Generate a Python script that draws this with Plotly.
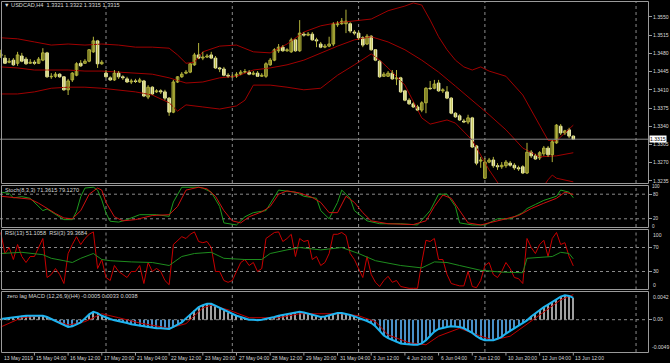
import plotly.graph_objects as go

# ---------------- DATA ----------------
bars = list(range(137))
open_ = [1.3475,1.3471,1.3463,1.3467,1.3461,1.3475,1.3469,1.3461,1.3463,1.3461,
1.3467,1.3481,1.3435,1.3436,1.3440,1.3435,1.3410,1.3429,1.3438,1.3461,
1.3461,1.3465,1.3483,1.3504,1.3460,1.3442,1.3433,1.3429,1.3442,1.3435,
1.3431,1.3425,1.3427,1.3425,1.3427,1.3396,1.3415,1.3406,1.3408,1.3406,
1.3394,1.3367,1.3425,1.3435,1.3442,1.3444,1.3458,1.3477,1.3471,1.3473,
1.3477,1.3471,1.3452,1.3450,1.3438,1.3436,1.3436,1.3440,1.3444,1.3444,
1.3440,1.3442,1.3436,1.3436,1.3458,1.3467,1.3485,1.3492,1.3485,1.3483,
1.3506,1.3485,1.3517,1.3515,1.3517,1.3506,1.3498,1.3492,1.3494,1.3498,
1.3535,1.3537,1.3537,1.3537,1.3521,1.3519,1.3510,1.3498,1.3513,1.3487,
1.3465,1.3436,1.3436,1.3442,1.3431,1.3433,1.3408,1.3390,1.3383,1.3377,
1.3371,1.3385,1.3413,1.3413,1.3423,1.3408,1.3406,1.3394,1.3365,1.3360,
1.3350,1.3348,1.3356,1.3302,1.3273,1.3240,1.3271,1.3275,1.3264,1.3262,
1.3264,1.3269,1.3265,1.3260,1.3262,1.3250,1.3290,1.3283,1.3279,1.3287,
1.3298,1.3285,1.3308,1.3340,1.3327,1.3333,1.3321]
close = [1.3479,1.3461,1.3465,1.3458,1.3477,1.3465,1.3460,1.3463,1.3461,1.3469,
1.3481,1.3435,1.3436,1.3440,1.3435,1.3410,1.3427,1.3442,1.3460,1.3456,
1.3465,1.3487,1.3504,1.3460,1.3463,1.3435,1.3429,1.3442,1.3435,1.3433,
1.3425,1.3427,1.3426,1.3429,1.3398,1.3415,1.3402,1.3408,1.3406,1.3394,
1.3367,1.3425,1.3435,1.3440,1.3444,1.3460,1.3477,1.3471,1.3473,1.3475,
1.3471,1.3452,1.3450,1.3438,1.3436,1.3435,1.3440,1.3444,1.3445,1.3440,
1.3442,1.3436,1.3438,1.3460,1.3467,1.3487,1.3492,1.3485,1.3487,1.3506,
1.3485,1.3519,1.3515,1.3517,1.3506,1.3504,1.3492,1.3494,1.3498,1.3537,
1.3537,1.3542,1.3542,1.3523,1.3519,1.3510,1.3496,1.3513,1.3487,1.3467,
1.3435,1.3440,1.3442,1.3431,1.3433,1.3406,1.3390,1.3383,1.3377,1.3371,
1.3385,1.3413,1.3412,1.3421,1.3408,1.3410,1.3394,1.3365,1.3358,1.3352,
1.3348,1.3356,1.3300,1.3269,1.3275,1.3271,1.3275,1.3264,1.3262,1.3265,
1.3271,1.3265,1.3260,1.3258,1.3250,1.3290,1.3283,1.3277,1.3289,1.3298,
1.3285,1.3310,1.3342,1.3327,1.3331,1.3321,1.3315]
high = [1.3487,1.3477,1.3471,1.3471,1.3483,1.3481,1.3473,1.3469,1.3467,1.3473,
1.3490,1.3483,1.3442,1.3444,1.3442,1.3436,1.3431,1.3444,1.3463,1.3467,
1.3469,1.3488,1.3512,1.3506,1.3467,1.3448,1.3436,1.3448,1.3446,1.3438,
1.3435,1.3431,1.3431,1.3433,1.3429,1.3419,1.3417,1.3411,1.3411,1.3410,
1.3396,1.3429,1.3436,1.3444,1.3448,1.3461,1.3481,1.3500,1.3483,1.3479,
1.3483,1.3475,1.3454,1.3454,1.3442,1.3440,1.3444,1.3448,1.3450,1.3448,
1.3446,1.3446,1.3442,1.3463,1.3471,1.3490,1.3498,1.3496,1.3490,1.3510,
1.3508,1.3544,1.3521,1.3521,1.3521,1.3510,1.3502,1.3498,1.3512,1.3540,
1.3542,1.3548,1.3564,1.3540,1.3525,1.3523,1.3513,1.3517,1.3515,1.3488,
1.3467,1.3444,1.3446,1.3448,1.3448,1.3435,1.3410,1.3394,1.3386,1.3381,
1.3388,1.3415,1.3427,1.3429,1.3429,1.3413,1.3417,1.3396,1.3367,1.3363,
1.3354,1.3362,1.3358,1.3304,1.3281,1.3279,1.3279,1.3281,1.3269,1.3271,
1.3275,1.3273,1.3269,1.3264,1.3265,1.3308,1.3294,1.3287,1.3292,1.3302,
1.3302,1.3313,1.3344,1.3344,1.3333,1.3337,1.3322]
low = [1.3471,1.3460,1.3461,1.3456,1.3456,1.3463,1.3458,1.3460,1.3458,1.3460,
1.3465,1.3433,1.3431,1.3433,1.3433,1.3408,1.3400,1.3425,1.3436,1.3454,
1.3460,1.3463,1.3481,1.3452,1.3458,1.3433,1.3427,1.3427,1.3431,1.3429,
1.3423,1.3421,1.3423,1.3423,1.3396,1.3392,1.3400,1.3404,1.3402,1.3390,
1.3360,1.3365,1.3423,1.3433,1.3440,1.3442,1.3456,1.3469,1.3467,1.3471,
1.3469,1.3450,1.3444,1.3436,1.3433,1.3433,1.3433,1.3438,1.3442,1.3438,
1.3438,1.3435,1.3435,1.3433,1.3456,1.3465,1.3481,1.3483,1.3483,1.3481,
1.3483,1.3483,1.3512,1.3513,1.3504,1.3492,1.3490,1.3490,1.3492,1.3494,
1.3531,1.3535,1.3519,1.3519,1.3515,1.3506,1.3492,1.3496,1.3485,1.3465,
1.3433,1.3435,1.3435,1.3429,1.3419,1.3404,1.3388,1.3381,1.3375,1.3369,
1.3367,1.3365,1.3410,1.3411,1.3406,1.3404,1.3392,1.3363,1.3356,1.3350,
1.3346,1.3344,1.3298,1.3265,1.3260,1.3239,1.3269,1.3260,1.3256,1.3258,
1.3260,1.3262,1.3256,1.3254,1.3248,1.3248,1.3279,1.3275,1.3275,1.3283,
1.3281,1.3271,1.3306,1.3323,1.3323,1.3317,1.3315]

bb_upper_x = [0,4,8,12,16,20,24,28,32,36,40,42,44,46,48,52,56,60,64,68,72,76,80,84,88,92,96,98,100,102,104,106,108,110,112,114,116,120,124,128,130,132,134,136]
bb_upper = [1.3510,1.3508,1.3502,1.3496,1.3498,1.3496,1.3498,1.3496,1.3492,1.3492,1.3490,1.3477,1.3461,1.3463,1.3483,1.3494,1.3496,1.3483,1.3481,1.3498,1.3521,1.3533,1.3539,1.3542,1.3546,1.3562,1.3571,1.3577,1.3573,1.3544,1.3512,1.3487,1.3467,1.3454,1.3448,1.3454,1.3446,1.3436,1.3400,1.3342,1.3313,1.3312,1.3327,1.3342]
bb_mid_x = [0,4,8,12,16,20,24,28,32,36,40,44,48,52,56,60,64,68,72,76,80,84,88,92,96,100,104,108,112,116,120,124,128,132,136]
bb_mid = [1.3454,1.3452,1.3448,1.3448,1.3448,1.3446,1.3446,1.3444,1.3442,1.3440,1.3433,1.3423,1.3425,1.3433,1.3436,1.3448,1.3452,1.3458,1.3467,1.3481,1.3494,1.3506,1.3512,1.3502,1.3487,1.3467,1.3444,1.3417,1.3390,1.3362,1.3333,1.3298,1.3281,1.3283,1.3289]
bb_lower_x = [0,4,8,12,16,20,24,28,32,36,40,42,44,48,52,56,58,60,64,68,72,76,80,84,88,90,92,96,100,102,104,106,108,112,116,120,124,128,130,131,132,136]
bb_lower = [1.3402,1.3402,1.3406,1.3413,1.3415,1.3415,1.3413,1.3410,1.3406,1.3400,1.3385,1.3369,1.3381,1.3377,1.3373,1.3379,1.3390,1.3419,1.3419,1.3415,1.3410,1.3413,1.3438,1.3458,1.3479,1.3467,1.3452,1.3419,1.3356,1.3344,1.3348,1.3352,1.3346,1.3313,1.3256,1.3208,1.3198,1.3213,1.3237,1.3246,1.3240,1.3233]

stoch_k_x = [0,2,3,5,7,9,10,11,13,15,17,18,19,20,22,23,24,25,26,28,30,33,37,40,41,43,47,48,50,52,53,56,58,60,63,65,66,70,72,75,76,78,80,81,83,84,87,90,95,99,102,104,106,108,109,112,115,118,121,124,125,127,129,132,133,135,136]
stoch_k = [85,82,71,74,70,50,40,44,30,18,18,38,74,95,97,90,66,34,14,12,18,30,30,26,61,97,97,95,85,50,10,5,25,35,40,75,90,85,75,70,40,20,60,90,70,40,15,8,8,5,40,80,80,50,10,5,5,20,20,35,45,55,65,75,90,85,71.36]
stoch_d_x = [0,3,7,9,11,13,15,17,19,21,23,24,25,27,29,32,36,40,42,44,47,49,51,53,55,57,59,62,64,66,68,71,74,76,78,80,82,84,86,88,92,98,101,103,105,107,109,111,114,117,120,123,126,129,132,134,136]
stoch_d = [75,72,68,58,45,33,22,20,40,80,95,90,60,25,15,18,28,30,50,90,97,93,75,40,15,10,25,37,50,80,88,83,72,60,35,35,75,60,35,15,8,6,15,50,78,70,40,10,5,12,20,28,45,58,70,85,79.13]

rsi13_x = [0,5,10,12,15,17,19,22,24,26,31,36,40,43,46,50,53,58,62,64,68,71,76,81,85,89,95,100,103,106,109,114,119,124,125,131,133,135,136]
rsi13 = [60,62,58,52,48,45,52,60,50,48,46,45,40,55,60,62,52,50,50,60,66,70,66,70,60,48,40,36,46,45,40,32,29,28,52,55,62,60,51.11]
rsi3 = [95,60,70,50,75,55,45,55,55,70,85,20,25,35,25,10,60,75,88,75,85,92,96,35,50,20,15,40,30,25,
20,30,30,40,10,45,30,35,30,15,8,75,82,88,85,92,96,80,78,80,70,30,30,15,12,15,30,45,50,40,
45,30,35,85,90,95,96,80,85,92,55,85,80,82,50,55,40,45,60,92,92,95,90,60,50,35,20,55,25,12,
5,15,22,12,15,5,3,2,2,2,45,82,80,85,50,50,25,10,8,6,6,30,5,3,15,40,45,25,20,30,
45,35,20,18,10,85,70,60,75,82,55,85,95,75,78,55,39.37]

macd = [0.0001,0.0002,0.0003,0.0004,0.0005,0.0006,0.0006,0.0006,0.0006,0.0006,
0.0006,0.0004,0.0001,-0.0002,-0.0005,-0.0008,-0.0011,-0.0010,-0.0007,-0.0004,
0.0002,0.0008,0.0012,0.0010,0.0006,0.0003,0.0001,-0.0001,-0.0002,-0.0004,
-0.0005,-0.0007,-0.0008,-0.0010,-0.0011,-0.0012,-0.0012,-0.0013,-0.0013,-0.0014,
-0.0014,-0.0011,-0.0007,-0.0004,0.0002,0.0008,0.0014,0.0019,0.0022,0.0024,
0.0024,0.0021,0.0018,0.0014,0.0011,0.0008,0.0006,0.0004,0.0002,0.0000,
0.0000,-0.0001,0.0000,0.0001,0.0003,0.0004,0.0006,0.0007,0.0008,0.0009,
0.0010,0.0012,0.0011,0.0009,0.0007,0.0005,0.0004,0.0005,0.0007,0.0009,
0.0010,0.0010,0.0009,0.0007,0.0005,0.0003,0.0001,-0.0002,-0.0005,-0.0010,
-0.0017,-0.0024,-0.0028,-0.0031,-0.0034,-0.0036,-0.0037,-0.0038,-0.0038,-0.0038,
-0.0036,-0.0031,-0.0024,-0.0018,-0.0014,-0.0012,-0.0011,-0.0010,-0.0010,-0.0011,
-0.0013,-0.0016,-0.0020,-0.0025,-0.0029,-0.0031,-0.0031,-0.0031,-0.0029,-0.0026,
-0.0021,-0.0017,-0.0013,-0.0009,-0.0005,-0.0001,0.0005,0.0010,0.0015,0.0019,
0.0023,0.0027,0.0031,0.0035,0.0037,0.0036,0.0033]
signal_x = [0,5,10,16,20,24,28,33,40,44,48,50,54,59,66,71,81,85,89,92,97,101,104,109,114,117,121,124,129,133,136]
signal = [-0.0011,0.0003,0.0006,-0.0008,-0.0003,0.0009,0.0003,-0.0005,-0.0013,-0.0006,0.0018,0.0022,0.0015,0.0003,0.0003,0.0009,0.0009,0.0006,-0.0003,-0.0023,-0.0035,-0.0038,-0.0025,-0.0013,-0.0025,-0.0031,-0.0025,-0.0011,0.0012,0.0030,0.0038]

date_tick_bars = [8,16,24,32,40,48,56,64,72,80,88,96,104,112,120,128,136]
date_tick_labels = ["15 May 04:00","16 May 12:00","17 May 20:00","21 May 04:00","22 May 12:00",
                    "23 May 20:00","27 May 04:00","28 May 12:00","29 May 20:00","31 May 04:00",
                    "3 Jun 12:00","4 Jun 20:00","6 Jun 04:00","7 Jun 12:00","10 Jun 20:00",
                    "12 Jun 04:00","13 Jun 12:00"]
week_start_bars = [25, 55, 85, 115, 150.9]
price_ticks = [1.3235,1.3270,1.3305,1.3340,1.3375,1.3410,1.3445,1.3480,1.3515,1.3550]
last_price = 1.3315

# ---------------- STYLE ----------------
W, H = 670, 363
BG = "#000000"
TXT = "#d8d8d8"
FONT = "Liberation Sans"
FS = 5.6
FSD = 5.0
FSR = 5.1
FSS = 4.6
BORDER = "#9a9a9a"
GRID = "#8a8a8a"

def py(px):
    return 1 - px / H

XR = [-0.75 / 4.21, (648 - 0.75) / 4.21]
XD = [0, 648 / W]

fig = go.Figure()

band_col = "#a00000"
for bx, by in [(bb_upper_x, bb_upper), (bb_mid_x, bb_mid), (bb_lower_x, bb_lower)]:
    fig.add_trace(go.Scatter(x=bx, y=by, mode="lines", line=dict(color=band_col, width=1),
                             xaxis="x", yaxis="y", hoverinfo="skip"))

bull = [i for i in bars if close[i] >= open_[i]]
bear = [i for i in bars if close[i] < open_[i]]
wick_col = "#b4b43c"
wx, wy = [], []
for i in bars:
    wx += [i, i, None]
    wy += [low[i], high[i], None]
fig.add_trace(go.Scatter(x=wx, y=wy, mode="lines", line=dict(color=wick_col, width=1),
                         xaxis="x", yaxis="y", hoverinfo="skip"))
minh = 0.00003
fig.add_trace(go.Bar(x=bull, y=[max(close[i] - open_[i], minh) for i in bull],
                     base=[open_[i] for i in bull], width=0.62,
                     marker=dict(color="#3c3c0a", line=dict(color=wick_col, width=1)),
                     xaxis="x", yaxis="y", hoverinfo="skip"))
fig.add_trace(go.Bar(x=bear, y=[max(open_[i] - close[i], minh) for i in bear],
                     base=[close[i] for i in bear], width=0.62,
                     marker=dict(color="#ffffd2", line=dict(color="#ececb0", width=1)),
                     xaxis="x", yaxis="y", hoverinfo="skip"))

fig.add_trace(go.Scatter(x=stoch_k_x, y=stoch_k, mode="lines", line=dict(color="#1e9b1e", width=1),
                         xaxis="x2", yaxis="y2", hoverinfo="skip"))
fig.add_trace(go.Scatter(x=stoch_d_x, y=stoch_d, mode="lines", line=dict(color="#d01010", width=1),
                         xaxis="x2", yaxis="y2", hoverinfo="skip"))
fig.add_trace(go.Scatter(x=bars, y=rsi3, mode="lines", line=dict(color="#c80000", width=1),
                         xaxis="x3", yaxis="y3", hoverinfo="skip"))
fig.add_trace(go.Scatter(x=rsi13_x, y=rsi13, mode="lines", line=dict(color="#1e8c1e", width=1),
                         xaxis="x3", yaxis="y3", hoverinfo="skip"))
hist_cols = ["#a0a0a0" if v >= 0 else "#4a90c8" for v in macd]
fig.add_trace(go.Bar(x=bars, y=macd, width=0.25, marker=dict(color=hist_cols, line=dict(width=0)),
                     xaxis="x4", yaxis="y4", hoverinfo="skip"))
fig.add_trace(go.Scatter(x=signal_x, y=signal, mode="lines", line=dict(color="#c00000", width=1),
                         xaxis="x4", yaxis="y4", hoverinfo="skip"))
fig.add_trace(go.Scatter(x=bars, y=macd, mode="lines", line=dict(color="#1eb4f0", width=2),
                         xaxis="x4", yaxis="y4", hoverinfo="skip"))

panels = {
    "y": (2, 183, [1.32308, 1.35788]),
    "y2": (186, 227, [0, 100]),
    "y3": (229.5, 289.5, [0, 100]),
    "y4": (292, 352, [-0.0049, 0.0042]),
}
layout = dict(width=W, height=H, margin=dict(l=0, r=0, t=0, b=0),
              paper_bgcolor=BG, plot_bgcolor=BG, showlegend=False, barmode="overlay",
              font=dict(family=FONT, size=FS, color=TXT))
axes_ids = ["", "2", "3", "4"]
for k, aid in enumerate(axes_ids):
    yname = "y" + aid
    top, bot, rng = panels[yname]
    layout["xaxis" + aid] = dict(domain=XD, range=XR, anchor=yname, showgrid=False, zeroline=False,
                                 showticklabels=False, ticks="", showline=False,
                                 matches=None if k == 0 else "x")
    layout["yaxis" + aid] = dict(domain=[py(bot), py(top)], range=rng, anchor="x" + aid,
                                 showgrid=False, zeroline=False, showline=False, fixedrange=True)
tf = dict(size=FSR, color=TXT, family=FONT)
tfs = dict(size=FSS, color=TXT, family=FONT)
layout["yaxis"].update(side="right", tickvals=price_ticks, ticktext=[f"{v:.4f}" for v in price_ticks],
                       ticks="outside", ticklen=3, tickcolor=BORDER, showticklabels=True, tickfont=tf)
layout["yaxis2"].update(side="right", tickvals=[20, 80], ticks="outside", ticklen=3, tickcolor=BORDER, tickfont=tfs)
layout["yaxis3"].update(side="right", tickvals=[30, 70], ticks="outside", ticklen=3, tickcolor=BORDER, tickfont=tf)
layout["yaxis4"].update(side="right", tickvals=[0], ticktext=["0.00"], ticks="outside", ticklen=3,
                        tickcolor=BORDER, tickfont=tf)
fig.update_layout(**layout)

shapes = []
for wb in week_start_bars:
    for aid in axes_ids:
        shapes.append(dict(type="line", xref="x", yref="y" + aid + " domain", x0=wb, x1=wb, y0=0, y1=1,
                           line=dict(color=GRID, width=1, dash="dot"), layer="below"))
for yr, lv in [("y2", 20), ("y2", 80), ("y3", 30), ("y3", 70), ("y4", 0)]:
    shapes.append(dict(type="line", xref="x domain", yref=yr, x0=0, x1=1, y0=lv, y1=lv,
                       line=dict(color=GRID, width=1, dash="dot"), layer="below"))
shapes.append(dict(type="line", xref="x domain", yref="y", x0=0, x1=1, y0=last_price, y1=last_price,
                   line=dict(color="#8c8c8c", width=1)))
for top, bot in [(1.5, 183.5), (185.5, 227.5), (229.5, 289.5), (291.5, 352.5)]:
    shapes.append(dict(type="rect", xref="paper", yref="paper", x0=1.5 / W, x1=648.5 / W,
                       y0=py(bot), y1=py(top), line=dict(color=BORDER, width=1)))
for b in date_tick_bars:
    shapes.append(dict(type="line", xref="x", yref="paper", x0=b, x1=b, y0=py(352.5), y1=py(355.5),
                       line=dict(color=BORDER, width=1)))

annotations = []
def ann(text, x, y, xref="paper", yref="paper", xanchor="left", yanchor="middle", size=FS, **kw):
    d = dict(text=text, x=x, y=y, xref=xref, yref=yref, xanchor=xanchor, yanchor=yanchor,
             showarrow=False, font=dict(size=size, color=TXT, family=FONT))
    d.update(kw)
    annotations.append(d)

ann("\u25bc USDCAD,H4  1.3321 1.3322 1.3315 1.3315", 2 / W, py(5.5))
ann("Stoch(8,3,3) 71.3615 79.1270", 3 / W, py(190))
ann("RSI(13) 51.1058  RSI(3) 39.3684", 3 / W, py(233))
ann("zero lag MACD (12,26,9)(H4) -0.0005 0.0033 0.0038", 5 / W, py(296))
ann("100", 651 / W, 100, yref="y2", yanchor="top", size=FSS, yshift=3, borderpad=0)
ann("0", 651 / W, 0, yref="y2", yanchor="bottom", size=FSS, yshift=-3, borderpad=0)
ann("100", 651 / W, 100, yref="y3", yanchor="top", size=FSR)
ann("0", 651 / W, 0, yref="y3", yanchor="bottom", size=FSR)
ann("0.0042", 651 / W, 0.0042, yref="y4", yanchor="top", size=FSR)
ann("-0.0049", 650 / W, -0.0049, yref="y4", yanchor="bottom", size=FSR)
ann("1.3315", 649 / W, last_price, yref="y", bgcolor="#ffffff",
    font=dict(size=FSR, color="#000000", family=FONT), borderpad=0)
ann("13 May 2019", 2 / W, py(358), size=FSD)
for b, t in zip(date_tick_bars, date_tick_labels):
    ann(t, b, py(358), xref="x", xshift=0, size=FSD)

fig.update_layout(shapes=shapes, annotations=annotations)
fig.write_html("out.html")
